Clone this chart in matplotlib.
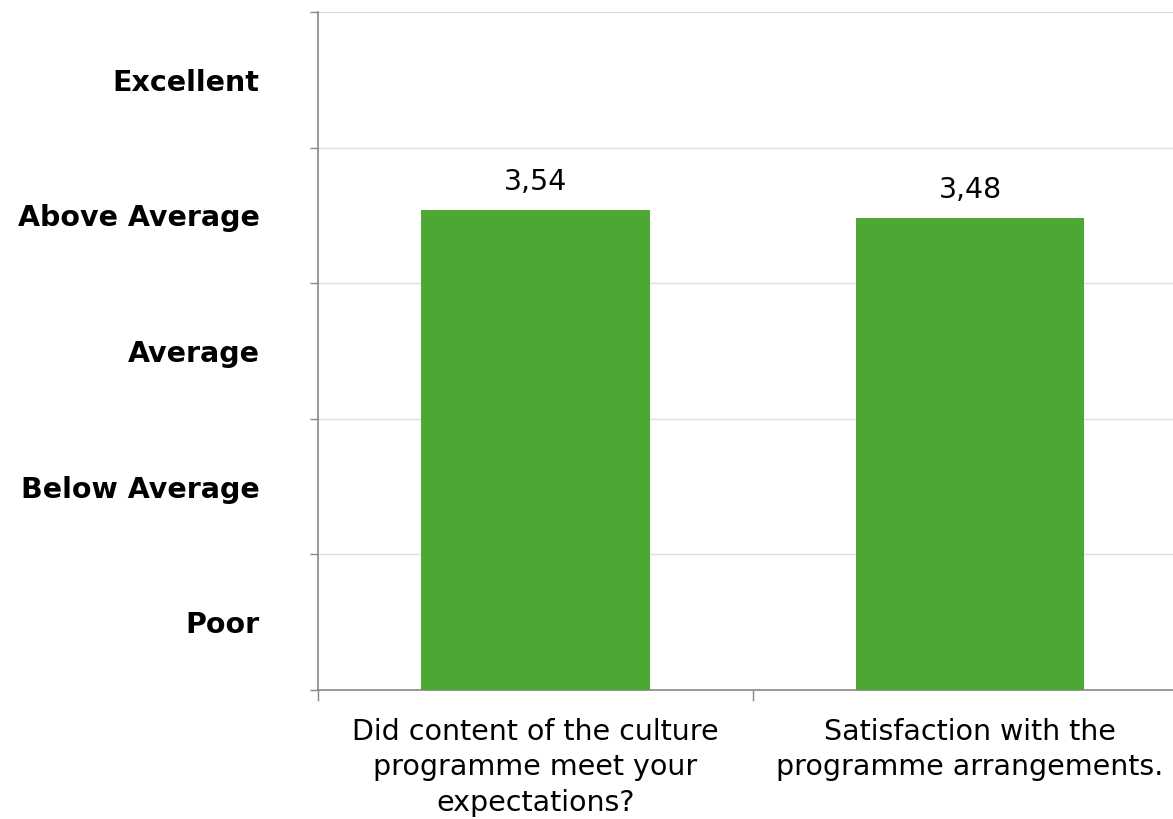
import matplotlib
matplotlib.use('Agg')
import matplotlib.pyplot as plt
import matplotlib.ticker as ticker
from numpy import arange

questions = ['Did content of the culture\nprogramme meet your\nexpectations?',
             'Satisfaction with the\nprogramme arrangements.']
scores = [3.54, 3.48]
score_labels = ['3,54', '3,48']
ratings = ['Poor', 'Below Average', 'Average', 'Above Average', 'Excellent']

plt.rcParams['font.family'] = ['DejaVu Sans']

fig = plt.figure(figsize=(11.73, 8.19), dpi=100)
ax = fig.add_axes([0.2711, 0.1575, 0.7413, 0.8278])

x = arange(len(scores))
bars = ax.bar(x, scores, width=0.525, color='#4ca832', zorder=3)

for b, lab in zip(bars, score_labels):
	ax.annotate(lab, (b.get_x() + b.get_width() / 2, b.get_height()),
	            xytext=(0, 10), textcoords='offset points',
	            ha='center', va='bottom', fontsize=20.5, color='black')

ax.set_xlim(-0.5, 1.5)
ax.set_ylim(0, 5)

#  major ticks on gridlines, minor ticks carry the rating names
ax.yaxis.set_major_locator(ticker.MultipleLocator(1))
ax.yaxis.set_major_formatter(ticker.NullFormatter())
ax.yaxis.set_minor_locator(ticker.FixedLocator(arange(0.5, 5, 1)))
ax.yaxis.set_minor_formatter(ticker.FixedFormatter(ratings))
ax.tick_params(axis='y', which='major', length=6, width=1, color='#888888')
ax.tick_params(axis='y', which='minor', length=0, pad=42, labelsize=20.5)
for t in ax.yaxis.get_minorticklabels():
	t.set_fontweight('bold')
	t.set_va('center_baseline')

ax.xaxis.set_major_locator(ticker.FixedLocator([-0.5, 0.5, 1.5]))
ax.xaxis.set_major_formatter(ticker.NullFormatter())
ax.xaxis.set_minor_locator(ticker.FixedLocator(x))
ax.xaxis.set_minor_formatter(ticker.FixedFormatter(questions))
ax.tick_params(axis='x', which='major', length=8, width=1, color='#888888')
ax.tick_params(axis='x', which='minor', length=0, pad=20, labelsize=20.5)
for t in ax.xaxis.get_minorticklabels():
	t.set_multialignment('center')
	t.set_linespacing(1.35)

ax.grid(axis='y', which='major', color='#dddddd', linewidth=1, zorder=0)
for s in ['top', 'right']:
	ax.spines[s].set_visible(False)
for s in ['left', 'bottom']:
	ax.spines[s].set_color('#888888')
	ax.spines[s].set_linewidth(1.2)

plt.savefig('out.png', dpi=100)
plt.close(fig)
